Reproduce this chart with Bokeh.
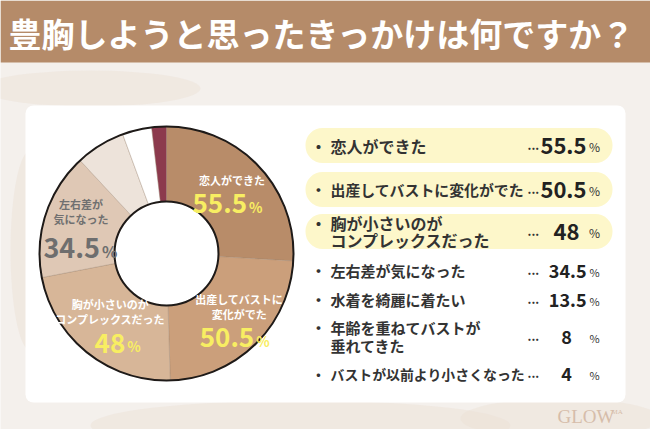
import math
from bokeh.plotting import figure
from bokeh.core.properties import value
from bokeh.embed import file_html
from bokeh.resources import INLINE

# ---------------- data ----------------
title = "豊胸しようと思ったきっかけは何ですか？"
categories = ["恋人ができた", "出産してバストに変化がでた", "胸が小さいのがコンプレックスだった",
              "左右差が気になった", "水着を綺麗に着たい", "年齢を重ねてバストが垂れてきた",
              "バストが以前より小さくなった"]
values_pct = [55.5, 50.5, 48, 34.5, 13.5, 8, 4]
list_lines = [["恋人ができた"], ["出産してバストに変化がでた"], ["胸が小さいのが", "コンプレックスだった"],
              ["左右差が気になった"], ["水着を綺麗に着たい"], ["年齢を重ねてバストが", "垂れてきた"],
              ["バストが以前より小さくなった"]]
pie_label_lines = [["恋人ができた"], ["出産してバストに", "変化がでた"],
                   ["胸が小さいのが", "コンプレックスだった"], ["左右差が", "気になった"]]
slice_colors = ["#B88C69", "#CB9F7B", "#D7B698", "#DFC8B5", "#EDE3DA", "#FFFFFF", "#8C3A4D"]
n_highlight = 3

# ---------------- layout helpers ----------------
W, H = 650, 429
FONT = value("Noto Sans CJK JP")
def Y(v):
    return H - v

p = figure(width=W, height=H, x_range=(0, W), y_range=(0, H),
           output_backend="svg", toolbar_location=None, min_border=0)
p.axis.visible = False
p.grid.visible = False
p.outline_line_color = None
p.background_fill_color = "#F4F0EC"
p.border_fill_color = "#F4F0EC"

# faint marble background blobs
p.ellipse(x=[300, 560, 90, 30], y=[Y(425), Y(418), Y(88), Y(250)], width=[420, 200, 220, 40],
          height=[50, 40, 36, 200], fill_color="#EBDFD5", fill_alpha=0.45, line_color=None)

# title band
p.quad(left=[0], right=[W], top=[Y(0)], bottom=[Y(62)], fill_color="#B58B69", line_color=None)
p.text(x=[8], y=[Y(32)], text=[title], text_font=FONT, text_font_size=value("33px"),
       text_font_style="bold", text_color="white", text_baseline="middle", text_align="left")

# white panel
p.quad(left=[25], right=[625], top=[Y(105)], bottom=[Y(402)], fill_color="white",
       line_color=None, border_radius=8)

# ---------------- donut ----------------
cx, cy = 166, Y(253)
r_out, r_in = 127, 52
total = sum(values_pct)
starts, ends, mids = [], [], []
cum = 0.0
for v in values_pct:
    a0 = math.pi / 2 - 2 * math.pi * cum / total
    cum += v
    a1 = math.pi / 2 - 2 * math.pi * cum / total
    starts.append(a0)
    ends.append(a1)
    mids.append((a0 + a1) / 2)

p.annular_wedge(x=[cx] * len(values_pct), y=[cy] * len(values_pct), inner_radius=r_in,
                outer_radius=r_out, start_angle=starts, end_angle=ends, direction="clock",
                fill_color=slice_colors, line_color="#9C8470", line_alpha=0.5, line_width=0.7)
p.circle(x=[cx], y=[cy], radius=r_out, fill_color=None, line_color="#1E1A18", line_width=2)
p.circle(x=[cx], y=[cy], radius=r_in, fill_color=None, line_color="#1E1A18", line_width=2)

# labels inside the donut
label_dx = [0, 10, 0, 4]
for i, lines in enumerate(pie_label_lines):
    ax = cx + 90 * math.cos(mids[i]) + label_dx[i]
    ay = cy + 90 * math.sin(mids[i])  # data coords (y up)
    gray = i == 3
    step = 15
    num_gap = 29 if gray else 24
    y0 = ay + (step * (len(lines) - 1) + num_gap) / 2  # top line (y up)
    lab_color = "#707070" if gray else "white"
    num_color = "#6E6E6E" if gray else "#F8EE62"
    for k, ln in enumerate(lines):
        p.text(x=[ax - (4 if gray else 0)], y=[y0 - k * step], text=[ln], text_font=FONT,
               text_font_size=value("11px"), text_font_style="bold", text_color=lab_color,
               text_align="center", text_baseline="middle")
    ny = y0 - step * (len(lines) - 1) - num_gap
    v = values_pct[i]
    s = f"{v:g}"
    p.text(x=[ax + 15], y=[ny], text=[s], text_font=FONT,
           text_font_size=value("27px" if gray else "26px"),
           text_font_style="bold", text_color=num_color, text_align="right", text_baseline="middle")
    p.text(x=[ax + 17], y=[ny - 3], text=["%"], text_font=FONT,
           text_font_size=value("16px" if gray else "14px"), text_font_style="bold",
           text_color=num_color, text_align="left", text_baseline="middle")

# ---------------- list on the right ----------------
row_y = [145, 189, 231, 270, 299, 336, 373]
for i, lines in enumerate(list_lines):
    yc = row_y[i]
    hl = i < n_highlight
    if hl:
        p.quad(left=[305], right=[612], top=[Y(yc - 17.5)], bottom=[Y(yc + 17.5)],
               fill_color="#FDF7CA", line_color=None, border_radius=17)
    base = 16 if hl else 15
    longest = max(len(ln) for ln in lines)
    fs = min(base, 194 / longest)
    line_step = 17 if hl else 18
    top = yc - line_step * (len(lines) - 1) / 2
    p.text(x=[318], y=[Y(top)], text=["・"], text_font=FONT, text_font_size=value(f"{fs:.1f}px"),
           text_font_style="bold", text_color="#333333", text_align="center", text_baseline="middle")
    for k, ln in enumerate(lines):
        p.text(x=[330], y=[Y(top + k * line_step)], text=[ln], text_font=FONT,
               text_font_size=value(f"{fs:.1f}px"), text_font_style="bold",
               text_color="#333333", text_align="left", text_baseline="middle")
    p.text(x=[527], y=[Y(yc)], text=["..."], text_font=FONT, text_font_size=value("12px"),
           text_font_style="bold", text_color="#333333", text_align="left", text_baseline="middle")
    v = values_pct[i]
    s = f"{v:g}"
    vsize = "22px" if hl else "18px"
    if float(v).is_integer():
        p.text(x=[566], y=[Y(yc)], text=[s], text_font=FONT, text_font_size=value(vsize),
               text_font_style="bold", text_color="#222222", text_align="center",
               text_baseline="middle")
    else:
        p.text(x=[586], y=[Y(yc)], text=[s], text_font=FONT, text_font_size=value(vsize),
               text_font_style="bold", text_color="#222222", text_align="right",
               text_baseline="middle")
    p.text(x=[594], y=[Y(yc + 1)], text=["%"], text_font=FONT,
           text_font_size=value("12px" if hl else "11px"), text_color="#333333",
           text_align="center", text_baseline="middle")

# logo
p.text(x=[557], y=[Y(416)], text=["GLOW"], text_font=value("Liberation Serif"),
       text_font_size=value("19px"), text_color="#D6BDAA", text_align="left",
       text_baseline="middle")
p.text(x=[611], y=[Y(411)], text=["MA"], text_font=value("Liberation Serif"),
       text_font_size=value("7px"), text_color="#D6BDAA", text_align="left",
       text_baseline="middle")

open("out.html", "w").write(file_html(p, INLINE))
